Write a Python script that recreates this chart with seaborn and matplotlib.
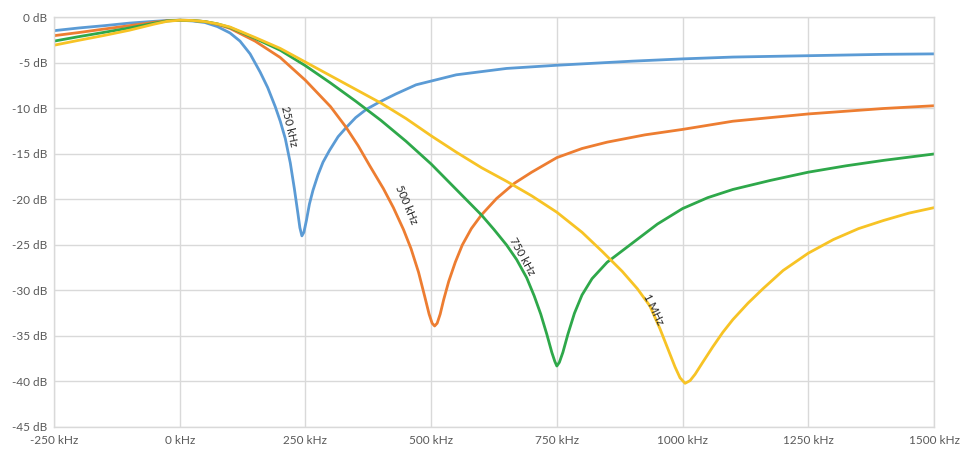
import pandas as pd
import seaborn as sns
import matplotlib.pyplot as plt

# Notch filter responses (kHz, dB)
blue_x = [-250, -200, -150, -100, -50, -25, 0, 25, 50, 75, 100, 120, 140, 160, 175, 190, 200,
          210, 220, 228, 235, 239, 243, 247, 252, 258, 265, 275, 285, 298, 315, 331, 350, 371,
          397, 430, 470, 550, 650, 750, 900, 1000, 1100, 1250, 1400, 1500]
blue_y = [-1.45, -1.15, -0.9, -0.62, -0.42, -0.33, -0.3, -0.38, -0.55, -1.0, -1.7, -2.6, -4.0,
          -6.0, -7.7, -9.8, -11.4, -13.3, -16.0, -18.8, -21.5, -23.1, -24.0, -23.6, -22.3,
          -20.5, -19.0, -17.3, -15.9, -14.6, -13.1, -12.1, -11.0, -10.1, -9.3, -8.4, -7.4,
          -6.3, -5.6, -5.25, -4.8, -4.55, -4.35, -4.2, -4.05, -4.0]

orange_x = [-250, -200, -150, -100, -50, -25, 0, 25, 50, 75, 100, 150, 200, 250, 300, 330, 355,
            378, 405, 425, 445, 460, 475, 487, 496, 502, 507, 512, 518, 525, 535, 548, 562,
            580, 600, 630, 666, 700, 750, 800, 850, 925, 1000, 1100, 1250, 1400, 1500]
orange_y = [-2.0, -1.65, -1.27, -0.9, -0.52, -0.36, -0.3, -0.33, -0.45, -0.75, -1.2, -2.6,
            -4.4, -6.9, -9.8, -12.0, -14.1, -16.3, -18.8, -20.9, -23.3, -25.4, -28.0, -30.6,
            -32.6, -33.6, -33.9, -33.6, -32.6, -31.0, -29.0, -26.9, -25.0, -23.2, -21.7, -19.9,
            -18.2, -17.0, -15.4, -14.4, -13.7, -12.9, -12.3, -11.4, -10.6, -10.0, -9.7]

green_x = [-250, -200, -150, -100, -50, -25, 0, 25, 50, 75, 100, 150, 200, 250, 300, 350, 400,
           450, 500, 550, 600, 625, 650, 670, 690, 705, 718, 730, 740, 746, 750, 755, 762, 772,
           785, 800, 820, 850, 900, 950, 1000, 1050, 1100, 1175, 1250, 1325, 1400, 1500]
green_y = [-2.6, -2.1, -1.63, -1.15, -0.62, -0.38, -0.3, -0.33, -0.45, -0.7, -1.1, -2.3, -3.6,
           -5.3, -7.2, -9.2, -11.3, -13.6, -16.1, -18.9, -21.7, -23.3, -25.0, -26.6, -28.6,
           -30.6, -32.6, -34.8, -36.8, -37.8, -38.3, -37.9, -36.8, -34.8, -32.5, -30.5, -28.7,
           -26.9, -24.8, -22.7, -21.0, -19.8, -18.9, -17.9, -17.0, -16.3, -15.7, -15.0]

yellow_x = [-250, -200, -150, -100, -50, -25, 0, 25, 50, 75, 100, 150, 200, 250, 300, 350, 400,
            450, 500, 550, 600, 650, 700, 750, 800, 840, 880, 910, 935, 955, 970, 985, 995,
            1005, 1015, 1025, 1040, 1060, 1080, 1100, 1130, 1160, 1200, 1250, 1300, 1350, 1400,
            1450, 1500]
yellow_y = [-3.05, -2.5, -1.97, -1.4, -0.72, -0.42, -0.3, -0.33, -0.45, -0.7, -1.05, -2.2,
            -3.4, -4.9, -6.4, -7.9, -9.4, -11.1, -13.0, -14.8, -16.5, -18.0, -19.6, -21.4,
            -23.6, -25.7, -27.9, -29.8, -31.7, -34.2, -36.3, -38.4, -39.6, -40.2, -39.9, -39.2,
            -37.9, -36.2, -34.6, -33.2, -31.4, -29.8, -27.8, -25.9, -24.4, -23.2, -22.3, -21.5,
            -20.9]

series_names = ["250 kHz", "500 kHz", "750 kHz", "1 MHz"]
colors = ["#5B9BD5", "#ED7D31", "#2EA84A", "#F7C325"]

x_ticks = [-250, 0, 250, 500, 750, 1000, 1250, 1500]
y_ticks = [0, -5, -10, -15, -20, -25, -30, -35, -40, -45]

frames = []
for name, xs, ys in zip(series_names,
                        [blue_x, orange_x, green_x, yellow_x],
                        [blue_y, orange_y, green_y, yellow_y]):
    frames.append(pd.DataFrame({"freq": xs, "gain": ys, "filter": name}))
df = pd.concat(frames, ignore_index=True)

sns.set_theme(style="whitegrid")
plt.rcParams['font.family'] = ['Lato', 'DejaVu Sans']

fig = plt.figure(figsize=(9.62, 4.54), dpi=100)
ax = fig.add_axes([0.0561, 0.0595, 0.9148, 0.902])

sns.lineplot(data=df, x="freq", y="gain", hue="filter", palette=dict(zip(series_names, colors)),
             estimator=None, sort=False, linewidth=2.0, legend=False, ax=ax)
for line in ax.lines:
    line.set_solid_joinstyle("round")
    line.set_solid_capstyle("round")

ax.set_xlim(-250, 1500)
ax.set_ylim(-45, 0)
ax.set_xticks(x_ticks)
ax.set_yticks(y_ticks)
ax.set_xticklabels([f"{v} kHz" for v in x_ticks])
ax.set_yticklabels([f"{v} dB" for v in y_ticks])
ax.tick_params(axis="both", length=0, labelsize=8.5, colors="#595959")
ax.tick_params(axis="x", pad=6)
ax.tick_params(axis="y", pad=5)
ax.set_xlabel("")
ax.set_ylabel("")
ax.grid(True, color="#D9D9D9", linewidth=1.0)
for s in ax.spines.values():
    s.set_color("#D9D9D9")
    s.set_linewidth(1.0)
ax.set_facecolor("white")

# labels along each notch flank
label_pos = [(217, -12.0, -77), (451, -20.6, -67), (681, -26.2, -61), (942, -32.1, -64)]
for name, (lx, ly, rot) in zip(series_names, label_pos):
    ax.text(lx, ly, name, rotation=rot, ha="center", va="center", fontsize=8,
            color="#262626", rotation_mode="anchor")

fig.savefig("out.png", dpi=100)
